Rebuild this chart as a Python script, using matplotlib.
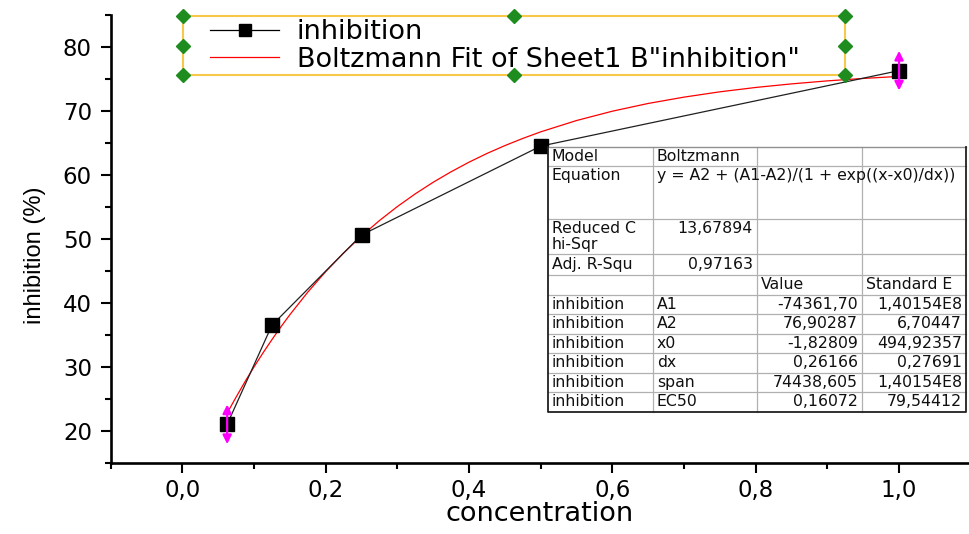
import matplotlib
matplotlib.use("Agg")
import matplotlib.pyplot as plt
from matplotlib.patches import Rectangle
from matplotlib.lines import Line2D
from matplotlib.ticker import MultipleLocator, FuncFormatter

plt.rcParams['font.family'] = ['DejaVu Sans']

# measured data
conc = [0.0625, 0.125, 0.25, 0.5, 1.0]
inhib = [21.0, 36.5, 50.6, 64.5, 76.3]

# Boltzmann fit curve
fit_x = [0.0625, 0.075, 0.0875, 0.1, 0.1125, 0.125, 0.1375, 0.15, 0.175, 0.2,
         0.225, 0.25, 0.275, 0.3, 0.325, 0.35, 0.375, 0.4, 0.425, 0.45,
         0.475, 0.5, 0.55, 0.6, 0.65, 0.7, 0.75, 0.8, 0.85, 0.9, 0.95, 1.0]
fit_y = [22.76, 25.26, 27.69, 29.98, 32.17, 34.25, 36.24, 38.14, 41.67, 44.88,
         47.80, 50.45, 52.86, 55.05, 57.04, 58.85, 60.49, 61.99, 63.35, 64.58,
         65.70, 66.73, 68.50, 69.96, 71.17, 72.16, 72.99, 73.67, 74.23, 74.70,
         75.08, 75.40]

legend_labels = ['inhibition', 'Boltzmann Fit of Sheet1 B"inhibition"']

table_rows = [
    ['Model', 'Boltzmann', '', ''],
    ['Equation', 'y = A2 + (A1-A2)/(1 + exp((x-x0)/dx))', '', ''],
    ['Reduced C\nhi-Sqr', '13,67894', '', ''],
    ['Adj. R-Squ', '0,97163', '', ''],
    ['', '', 'Value', 'Standard E'],
    ['inhibition', 'A1', '-74361,70', '1,40154E8'],
    ['inhibition', 'A2', '76,90287', '6,70447'],
    ['inhibition', 'x0', '-1,82809', '494,92357'],
    ['inhibition', 'dx', '0,26166', '0,27691'],
    ['inhibition', 'span', '74438,605', '1,40154E8'],
    ['inhibition', 'EC50', '0,16072', '79,54412'],
]

W, H = 969, 534
fig = plt.figure(figsize=(W / 100, H / 100), dpi=100)
ax = fig.add_axes([110.7 / W, 1 - 462.7 / H, (W - 110.7) / W, (462.7 - 15) / H])

ax.plot(conc, inhib, color='#202020', lw=0.9, marker='s', ms=10,
        mfc='black', mec='black', zorder=3)
ax.plot(fit_x, fit_y, color='red', lw=0.9, zorder=2)

for i in (0, -1):
    ax.annotate('', xy=(conc[i], inhib[i] + 3.1), xytext=(conc[i], inhib[i] - 3.1),
                arrowprops=dict(arrowstyle='<|-|>', color='magenta', lw=1.6,
                                mutation_scale=13, shrinkA=0, shrinkB=0), zorder=5)

ax.set_xlim(-0.1, (W - 182) / 717)
ax.set_ylim(15, 85)
ax.spines['top'].set_visible(False)
ax.spines['right'].set_visible(False)
ax.spines['left'].set_linewidth(1.9)
ax.spines['bottom'].set_linewidth(1.9)
ax.xaxis.set_minor_locator(MultipleLocator(0.1))
ax.yaxis.set_minor_locator(MultipleLocator(5))
ax.set_xticks([0.0, 0.2, 0.4, 0.6, 0.8, 1.0])
ax.set_yticks([20, 30, 40, 50, 60, 70, 80])
ax.xaxis.set_major_formatter(FuncFormatter(lambda v, p: f'{v:.1f}'.replace('.', ',')))
ax.tick_params(which='major', length=7.5, width=1.5, labelsize=16.5, direction='out')
ax.tick_params(which='minor', length=4, width=1.5, direction='out')
ax.tick_params(axis='y', pad=6)
ax.tick_params(axis='x', pad=4)
ax.set_xlabel('concentration', fontsize=19.5)
ax.xaxis.set_label_coords(0.5, -0.0862)
ax.set_ylabel('inhibition (%)', fontsize=17, family=['Liberation Sans', 'DejaVu Sans'])
ax.yaxis.set_label_coords(-0.0754, 0.464)

# overlay in pixel coordinates for legend box and table
ov = fig.add_axes([0, 0, 1, 1])
ov.set_xlim(0, W)
ov.set_ylim(H, 0)
ov.axis('off')

ov.add_patch(Rectangle((183, 16), 845 - 183, 75 - 16, fill=False,
                       edgecolor='#f7c84a', lw=1.5, zorder=4))
for hx in (183, 514, 845):
    for hy in (16, 45.5, 75):
        if hx == 514 and hy == 45.5:
            continue
        ov.plot(hx, hy, marker='D', ms=7, color='#1e8c1e', zorder=5)

handles = [Line2D([], [], color='black', lw=0.9, marker='s', ms=8, mfc='black'),
           Line2D([], [], color='red', lw=0.9)]
ov.legend(handles, legend_labels, loc='center left', bbox_to_anchor=(210, 46),
          bbox_transform=ov.transData, frameon=False, fontsize=19.5,
          handlelength=2.55, handletextpad=0.65, labelspacing=0.05,
          borderpad=0, borderaxespad=0, numpoints=1)

# parameter table
col_edges = [548, 653, 757, 862, 966]
row_edges = [147, 166, 219, 254, 275, 294.5, 314, 333.5, 353, 372.5, 392, 411.5]
ov.add_patch(Rectangle((col_edges[0], row_edges[0]), col_edges[-1] - col_edges[0],
                       row_edges[-1] - row_edges[0], facecolor='white',
                       edgecolor='none', zorder=6))
for yv in row_edges[1:-1]:
    ov.plot([col_edges[0], col_edges[-1]], [yv, yv], color='#b0b0b0', lw=0.9, zorder=7)
for xv in col_edges[1:-1]:
    ov.plot([xv, xv], [row_edges[0], row_edges[-1]], color='#b0b0b0', lw=0.9, zorder=7)
ov.plot([col_edges[0], col_edges[-1]], [row_edges[0], row_edges[0]], color='#909090', lw=1, zorder=8)
ov.plot([col_edges[0], col_edges[0], col_edges[-1], col_edges[-1]],
        [row_edges[0], row_edges[-1], row_edges[-1], row_edges[0]],
        color='#202020', lw=1.3, zorder=8)

for r, row in enumerate(table_rows):
    top, bot = row_edges[r], row_edges[r + 1]
    for c, txt in enumerate(row):
        if not txt:
            continue
        left, right = col_edges[c], col_edges[c + 1]
        if c == 0 or (c == 1 and r not in (2, 3)) or r == 4:
            x, ha = left + 4, 'left'
        else:
            x, ha = right - 4, 'right'
        if r in (1, 2):
            y, va = top + 2, 'top'
        else:
            y, va = (top + bot) / 2, 'center'
        ov.text(x, y, txt, ha=ha, va=va, fontsize=11.3, color='#101010',
                linespacing=1.1, zorder=9)

fig.savefig('out.png', dpi=100)
